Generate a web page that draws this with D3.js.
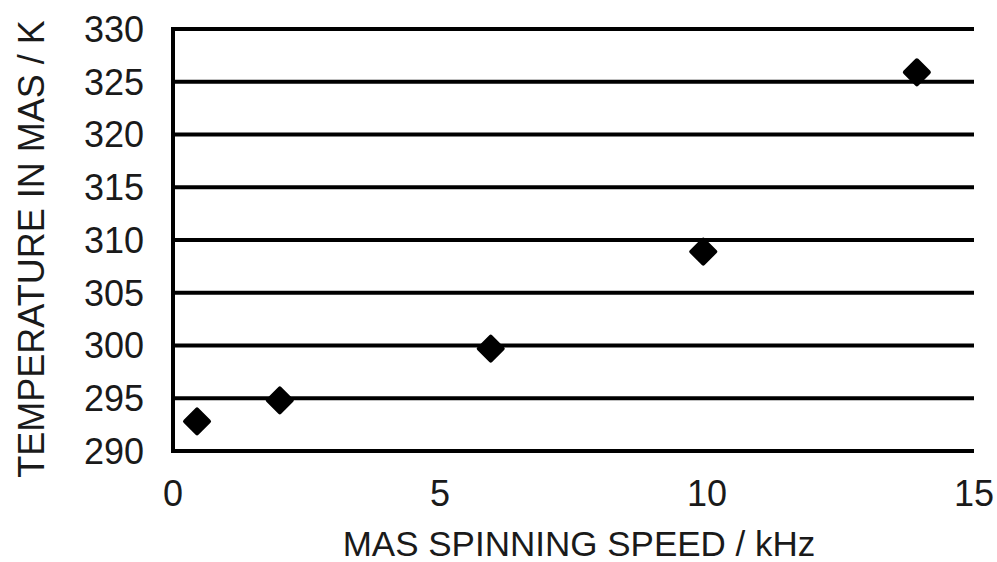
<!DOCTYPE html>
<html>
<head>
<meta charset="utf-8">
<script src="https://cdn.jsdelivr.net/npm/d3@7"></script>
<style>
  html, body { margin: 0; padding: 0; background: #fff; }
  svg { display: block; }
  text { font-family: "Liberation Sans", Arial, sans-serif; fill: #1a1a1a; }
</style>
</head>
<body>
<svg id="chart" width="997" height="562"></svg>
<script>
// Sample temperature under magic-angle spinning
const spinningSpeed = [0.45, 2.0, 5.95, 9.93, 13.93];      // kHz
const temperature   = [292.8, 294.8, 299.7, 308.9, 325.9];  // K
const xTicks = [0, 5, 10, 15];
const yTicks = [290, 295, 300, 305, 310, 315, 320, 325, 330];
const xTitle = "MAS SPINNING SPEED / kHz";
const yTitle = "TEMPERATURE IN MAS / K";

const svg = d3.select("#chart");
const plot = { left: 173, right: 974, top: 29, bottom: 451 };

const x = d3.scaleLinear().domain([0, 15]).range([plot.left, plot.right]);
const y = d3.scaleLinear().domain([290, 330]).range([plot.bottom, plot.top]);

// horizontal grid lines (the lowest one doubles as the x axis line)
svg.append("g")
  .selectAll("line")
  .data(yTicks)
  .join("line")
  .attr("x1", plot.left)
  .attr("x2", plot.right)
  .attr("y1", d => y(d))
  .attr("y2", d => y(d))
  .attr("stroke", "#000")
  .attr("stroke-width", 4);

// left axis line
svg.append("line")
  .attr("x1", plot.left).attr("x2", plot.left)
  .attr("y1", plot.top - 2).attr("y2", plot.bottom + 2)
  .attr("stroke", "#000")
  .attr("stroke-width", 4);

// y tick labels
svg.append("g")
  .selectAll("text")
  .data(yTicks)
  .join("text")
  .attr("x", 144)
  .attr("y", d => y(d))
  .attr("dy", "0.36em")
  .attr("text-anchor", "end")
  .attr("font-size", 36)
  .text(d => d);

// x tick labels
svg.append("g")
  .selectAll("text")
  .data(xTicks)
  .join("text")
  .attr("x", d => x(d))
  .attr("y", 506)
  .attr("text-anchor", "middle")
  .attr("font-size", 36)
  .text(d => d);

// axis titles
svg.append("text")
  .attr("x", 579)
  .attr("y", 556)
  .attr("text-anchor", "middle")
  .attr("font-size", 35)
  .text(xTitle);

svg.append("text")
  .attr("transform", "translate(44,249) rotate(-90)")
  .attr("text-anchor", "middle")
  .attr("font-size", 36)
  .text(yTitle);

// data markers: rounded diamonds
const half = 13;
svg.append("g")
  .selectAll("path")
  .data(spinningSpeed.map((s, i) => [s, temperature[i]]))
  .join("path")
  .attr("transform", d => `translate(${x(d[0])},${y(d[1])})`)
  .attr("d", `M0,${-half + 1}L${half - 1},0L0,${half - 1}L${-half + 1},0Z`)
  .attr("fill", "#000")
  .attr("stroke", "#000")
  .attr("stroke-width", 4)
  .attr("stroke-linejoin", "round");
</script>
</body>
</html>
